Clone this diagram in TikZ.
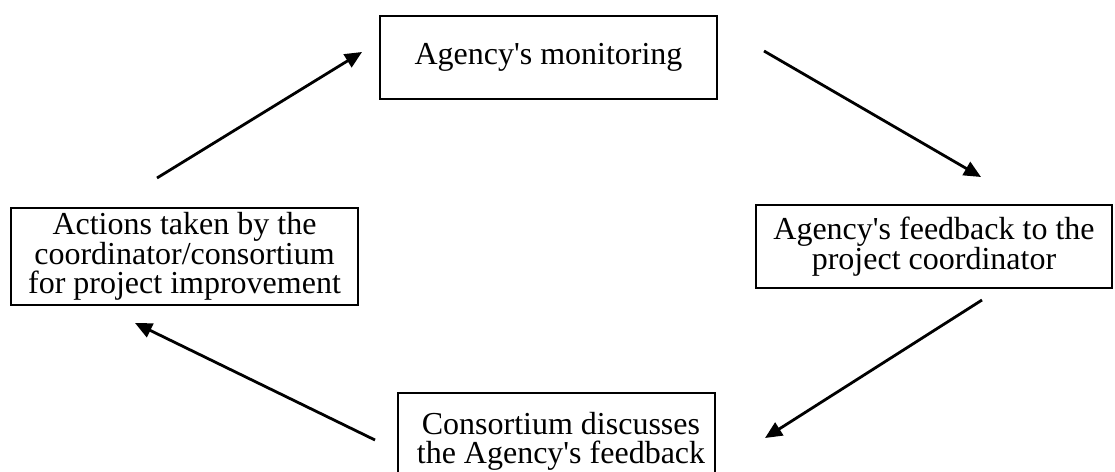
\documentclass[tikz,border=0pt]{standalone}
\usepackage{fontspec}
\setmainfont{Liberation Serif}[Ligatures=TeXOff]
\usetikzlibrary{arrows.meta}
\begin{document}
\begin{tikzpicture}[x=1pt,y=-1pt,
  box/.style={draw=black, line width=2.8pt, inner sep=0pt, align=center,
    font=\fontsize{32}{29}\selectfont},
  conn/.style={line width=2.8pt, -{Triangle[length=17pt,width=15pt]}}]
\clip (0,0) rectangle (1115,471);
\fill[white] (0,0) rectangle (1115,471);
\node[box, minimum width=337pt, minimum height=83pt] (mon) at (548.5,57.5) {Agency's monitoring};
\node[box, minimum width=356pt, minimum height=83pt] (fb) at (934,246.5) {Agency's feedback to the\\project coordinator};
\node[box, minimum width=317pt, minimum height=97pt] (disc) at (556.5,441.5) {\hspace*{9pt}Consortium discusses\\\hspace*{9pt}the Agency's feedback};
\node[box, minimum width=347pt, minimum height=97pt] (act) at (184.5,256.5) {Actions taken by the\\coordinator/consortium\\for project improvement};
\coordinate (a1s) at (157,178);
\coordinate (a1e) at (362,52);
\coordinate (a2s) at (764,51);
\coordinate (a2e) at (981,177);
\coordinate (a3s) at (982,300);
\coordinate (a3e) at (765,438);
\coordinate (a4s) at (375,440);
\coordinate (a4e) at (135,323);
\draw[conn] (a1s) -- (a1e);
\draw[conn] (a2s) -- (a2e);
\draw[conn] (a3s) -- (a3e);
\draw[conn] (a4s) -- (a4e);
\end{tikzpicture}
\end{document}
